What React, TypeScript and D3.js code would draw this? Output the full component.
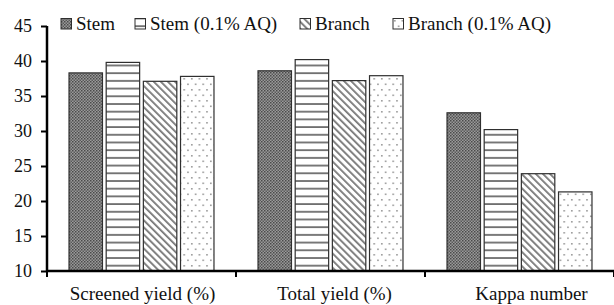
import { useRef, useEffect } from 'react';
import * as d3 from 'd3';

const categories = ['Screened yield (%)', 'Total yield (%)', 'Kappa number'];
const seriesNames = ['Stem', 'Stem (0.1% AQ)', 'Branch', 'Branch (0.1% AQ)'];
const stem = [38.3, 38.6, 32.6];
const stemAQ = [39.8, 40.2, 30.2];
const branch = [37.1, 37.2, 23.9];
const branchAQ = [37.8, 37.9, 21.3];
const yTicks = [10, 15, 20, 25, 30, 35, 40, 45];

const seriesValues = [stem, stemAQ, branch, branchAQ];
const patternIds = ['p-stem', 'p-stemaq', 'p-branch', 'p-branchaq'];

const W = 614;
const H = 305;
const FONT = '"Liberation Serif", "DejaVu Serif", serif';

const App = () => {
  const ref = useRef<SVGSVGElement>(null);

  useEffect(() => {
    const svg = d3.select(ref.current);
    svg.selectAll('*').remove();

    const defs = svg.append('defs');

    // dense dark checker
    const p0 = defs.append('pattern').attr('id', patternIds[0])
      .attr('patternUnits', 'userSpaceOnUse').attr('width', 3).attr('height', 3);
    p0.append('rect').attr('width', 3).attr('height', 3).attr('fill', '#9a9a9a');
    p0.append('rect').attr('width', 1.5).attr('height', 1.5).attr('fill', '#4a4a4a');
    p0.append('rect').attr('x', 1.5).attr('y', 1.5).attr('width', 1.5).attr('height', 1.5).attr('fill', '#5a5a5a');

    // horizontal lines
    const p1 = defs.append('pattern').attr('id', patternIds[1])
      .attr('patternUnits', 'userSpaceOnUse').attr('width', 8).attr('height', 7.7);
    p1.append('rect').attr('width', 8).attr('height', 7.7).attr('fill', '#fff');
    p1.append('rect').attr('y', 3).attr('width', 8).attr('height', 1.8).attr('fill', '#6e6e6e');

    // diagonal lines, top-left to bottom-right
    const p2 = defs.append('pattern').attr('id', patternIds[2])
      .attr('patternUnits', 'userSpaceOnUse').attr('width', 5).attr('height', 5)
      .attr('patternTransform', 'rotate(-45)');
    p2.append('rect').attr('width', 5).attr('height', 5).attr('fill', '#fff');
    p2.append('rect').attr('width', 1.8).attr('height', 5).attr('fill', '#777');

    // sparse dots
    const p3 = defs.append('pattern').attr('id', patternIds[3])
      .attr('patternUnits', 'userSpaceOnUse').attr('width', 7.6).attr('height', 11);
    p3.append('rect').attr('width', 7.6).attr('height', 11).attr('fill', '#fff');
    p3.append('rect').attr('x', 1).attr('y', 1).attr('width', 1.6).attr('height', 1.6).attr('fill', '#999');
    p3.append('rect').attr('x', 4.8).attr('y', 6.5).attr('width', 1.6).attr('height', 1.6).attr('fill', '#999');

    const left = 47;
    const right = 614;
    const top = 26;
    const bottom = 271;

    const x0 = d3.scaleBand<string>().domain(categories).range([left, right])
      .paddingInner(0.233).paddingOuter(0.1165);
    const x1 = d3.scaleBand<string>().domain(seriesNames).range([0, x0.bandwidth()])
      .paddingInner(0.1);
    const y = d3.scaleLinear().domain([10, 45]).range([bottom, top]);

    const g = svg.append('g');

    categories.forEach((c, ci) => {
      seriesNames.forEach((s, si) => {
        const v = seriesValues[si][ci];
        g.append('rect')
          .attr('x', (x0(c) ?? 0) + (x1(s) ?? 0))
          .attr('y', y(v))
          .attr('width', x1.bandwidth())
          .attr('height', y(10) - y(v))
          .attr('fill', `url(#${patternIds[si]})`)
          .attr('stroke', '#2f2f2f')
          .attr('stroke-width', 1.2);
      });
    });

    // y axis
    const yAxis = svg.append('g').attr('transform', `translate(${left},0)`)
      .call(d3.axisLeft(y).tickValues(yTicks).tickSize(6).tickPadding(9));
    yAxis.select('.domain').attr('stroke', '#000').attr('stroke-width', 2.5)
      .attr('d', `M0,${top}V${bottom}`);
    yAxis.selectAll('.tick line').attr('stroke', '#000').attr('stroke-width', 2);
    yAxis.selectAll('.tick text').style('font-family', FONT).style('font-size', '18px').attr('fill', '#111');

    // x axis
    const step = x0.step();
    const boundaries = [0, 1, 2, 3].map(i => left + i * step);
    const xAxis = svg.append('g').attr('transform', `translate(0,${bottom})`);
    xAxis.append('line').attr('x1', left - 1).attr('x2', right)
      .attr('stroke', '#000').attr('stroke-width', 2.5);
    boundaries.forEach(bx => {
      xAxis.append('line').attr('x1', bx).attr('x2', bx).attr('y1', 0).attr('y2', 6)
        .attr('stroke', '#000').attr('stroke-width', 2);
    });
    const labelShift = [1, 4, 12];
    categories.forEach((c, ci) => {
      xAxis.append('text')
        .attr('x', (x0(c) ?? 0) + x0.bandwidth() / 2 + labelShift[ci])
        .attr('y', 29)
        .attr('text-anchor', 'middle')
        .style('font-family', FONT).style('font-size', '19px').attr('fill', '#111')
        .text(c);
    });

    // legend
    const legendX = [61, 135, 300, 393];
    const legend = svg.append('g').attr('transform', 'translate(0,30)');
    seriesNames.forEach((s, si) => {
      const lg = legend.append('g').attr('transform', `translate(${legendX[si]},0)`);
      lg.append('rect').attr('x', 0).attr('y', -11.5).attr('width', 10.5).attr('height', 10.5)
        .attr('fill', `url(#${patternIds[si]})`).attr('stroke', '#2f2f2f').attr('stroke-width', 1);
      lg.append('text').attr('x', 15).attr('y', 0)
        .style('font-family', FONT).style('font-size', '19px').attr('fill', '#111')
        .text(s);
    });
  }, []);

  return (
    <svg
      ref={ref}
      width={W}
      height={H}
      viewBox={`0 0 ${W} ${H}`}
      style={{ position: 'absolute', left: 0, top: 0, background: '#fff' }}
    ></svg>
  );
};

export default App;
